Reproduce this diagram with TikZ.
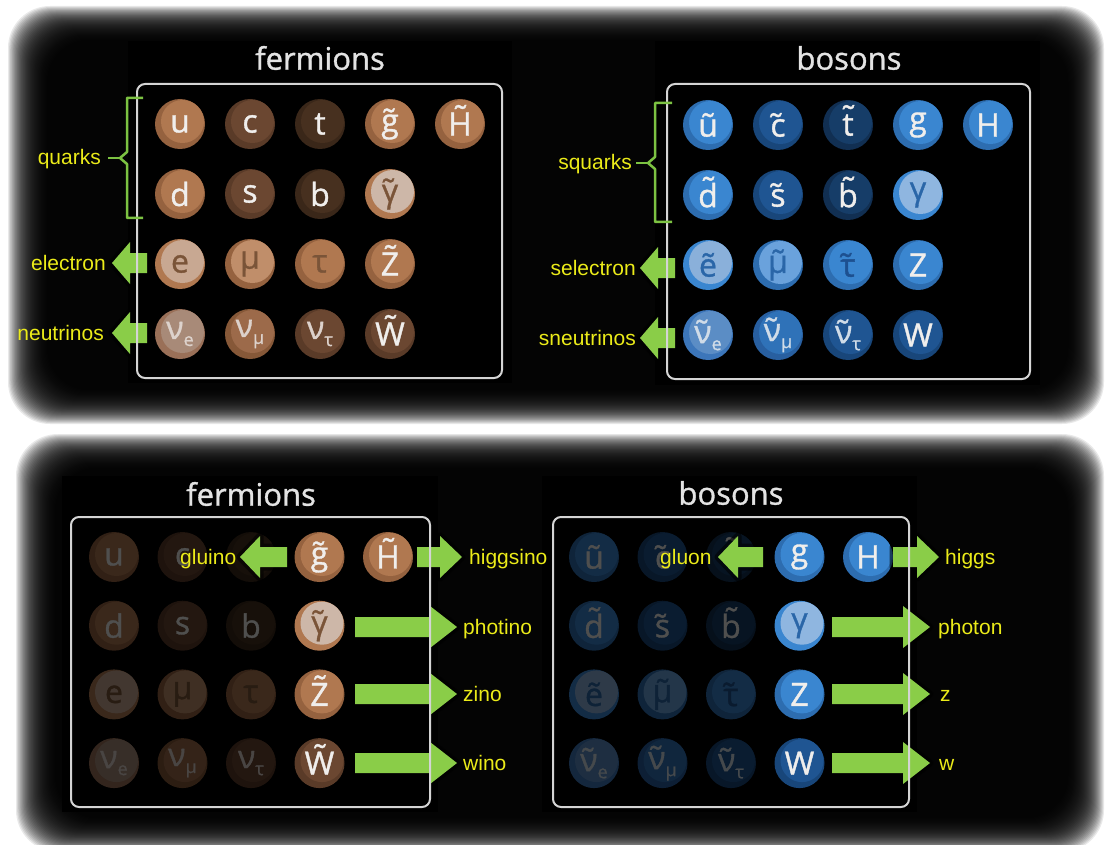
\documentclass[tikz,border=0pt]{standalone}
\usepackage{fontspec}
\setmainfont{Liberation Sans}
\newfontfamily\osans[FakeBold=1.1]{Open Sans}
\definecolor{bM}{HTML}{B07850}
\definecolor{bMc}{HTML}{95623F}
\definecolor{bD}{HTML}{6B4731}
\definecolor{bDc}{HTML}{5A3B28}
\definecolor{bV}{HTML}{47301F}
\definecolor{bVc}{HTML}{3A2719}
\definecolor{bL}{HTML}{CDB7A8}
\definecolor{bE}{HTML}{C8A892}
\definecolor{bMu}{HTML}{C08E6A}
\definecolor{bN}{HTML}{A88A78}
\definecolor{bNc}{HTML}{9A7058}
\definecolor{bN2}{HTML}{9C6A4A}
\definecolor{bN2c}{HTML}{865838}
\definecolor{bTd}{HTML}{7A5438}
\definecolor{wt}{HTML}{F0EEEC}
\definecolor{wl}{HTML}{DDD2CC}
\definecolor{uM}{HTML}{3A86D0}
\definecolor{uMc}{HTML}{2D6DB0}
\definecolor{uD}{HTML}{1F5592}
\definecolor{uDc}{HTML}{18467A}
\definecolor{uV}{HTML}{163D68}
\definecolor{uVc}{HTML}{112F52}
\definecolor{uL}{HTML}{8FB6E0}
\definecolor{uE}{HTML}{8AB0DA}
\definecolor{uMu}{HTML}{6AA2DC}
\definecolor{uN}{HTML}{5B8DC5}
\definecolor{uNc}{HTML}{3C76BA}
\definecolor{uN2}{HTML}{2F72B8}
\definecolor{uN2c}{HTML}{285FA0}
\definecolor{uTx}{HTML}{2A66A8}
\definecolor{uTd}{HTML}{1D5090}
\definecolor{wb}{HTML}{D0DCE8}
\definecolor{lblyellow}{RGB}{235,235,25}
\definecolor{titlegray}{HTML}{E3E3E3}
\definecolor{boxgray}{HTML}{D4D4D4}
\definecolor{bracegreen}{HTML}{7CC242}
\definecolor{arrowgreen}{RGB}{138,205,72}
\newcommand\tld{^^^^0303}
% tilde lifted above a tall letter
\newcommand\htl[1]{\ooalign{#1\cr\hidewidth\raisebox{7pt}{^^^^02dc}\hidewidth\cr}}
\newcommand\psub[1]{\raisebox{-7pt}{\fontsize{18}{18}\selectfont #1}}
% name, x, y, base, crescent, text colour, label, strength
\newcommand\ptcl[8]{%
  \fill[#5!#8!black] (#2,#3) circle[radius=25pt];
  \fill[#4!#8!black] (#2+2.5,#3-2.5) circle[radius=21.5pt];
  \node[ptxt,text=#6!#8!black] (#1) at (#2,#3) {#7};}
% prefix, x0, y0, dx, dy, other strength, highlight strength
\newcommand\fermset[7]{%
  \ptcl{#1u}{#2}{#3}{bM}{bMc}{wt}{u}{#6}
  \ptcl{#1c}{#2+#4}{#3}{bD}{bDc}{wt}{c}{#6}
  \ptcl{#1t}{#2+2*#4}{#3}{bV}{bVc}{wt}{t}{#6}
  \ptcl{#1g}{#2+3*#4}{#3}{bM}{bMc}{wt}{g\tld}{#7}
  \ptcl{#1H}{#2+4*#4}{#3}{bM}{bMc}{wt}{\htl{H}}{#7}
  \ptcl{#1d}{#2}{#3+#5}{bM}{bMc}{wt}{d}{#6}
  \ptcl{#1s}{#2+#4}{#3+#5}{bD}{bDc}{wt}{s}{#6}
  \ptcl{#1b}{#2+2*#4}{#3+#5}{bV}{bVc}{wt}{b}{#6}
  \ptcl{#1y}{#2+3*#4}{#3+#5}{bL}{bM}{bTd}{γ\tld}{#7}
  \ptcl{#1e}{#2}{#3+2*#5}{bE}{bM}{bTd}{e}{#6}
  \ptcl{#1m}{#2+#4}{#3+2*#5}{bMu}{bMc}{bTd}{μ}{#6}
  \ptcl{#1ta}{#2+2*#4}{#3+2*#5}{bM}{bMc}{bTd}{τ}{#6}
  \ptcl{#1Z}{#2+3*#4}{#3+2*#5}{bM}{bMc}{wt}{\htl{Z}}{#7}
  \ptcl{#1ne}{#2}{#3+3*#5}{bN}{bNc}{wl}{ν\psub{e}}{#6}
  \ptcl{#1nm}{#2+#4}{#3+3*#5}{bN2}{bN2c}{wl}{ν\psub{μ}}{#6}
  \ptcl{#1nt}{#2+2*#4}{#3+3*#5}{bD}{bDc}{wl}{ν\psub{τ}}{#6}
  \ptcl{#1W}{#2+3*#4}{#3+3*#5}{bD}{bDc}{wt}{\htl{W}}{#7}}
\newcommand\bosset[7]{%
  \ptcl{#1u}{#2}{#3}{uM}{uMc}{wt}{u\tld}{#6}
  \ptcl{#1c}{#2+#4}{#3}{uD}{uDc}{wt}{c\tld}{#6}
  \ptcl{#1t}{#2+2*#4}{#3}{uV}{uVc}{wt}{\htl{t}}{#6}
  \ptcl{#1g}{#2+3*#4}{#3}{uM}{uMc}{wt}{g}{#7}
  \ptcl{#1H}{#2+4*#4}{#3}{uM}{uMc}{wt}{H}{#7}
  \ptcl{#1d}{#2}{#3+#5}{uM}{uMc}{wt}{\htl{d}}{#6}
  \ptcl{#1s}{#2+#4}{#3+#5}{uD}{uDc}{wt}{s\tld}{#6}
  \ptcl{#1b}{#2+2*#4}{#3+#5}{uV}{uVc}{wt}{\htl{b}}{#6}
  \ptcl{#1y}{#2+3*#4}{#3+#5}{uL}{uM}{uTx}{γ}{#7}
  \ptcl{#1e}{#2}{#3+2*#5}{uE}{uM}{uTx}{e\tld}{#6}
  \ptcl{#1m}{#2+#4}{#3+2*#5}{uMu}{uMc}{uTx}{μ\tld}{#6}
  \ptcl{#1ta}{#2+2*#4}{#3+2*#5}{uM}{uMc}{uTd}{τ\tld}{#6}
  \ptcl{#1Z}{#2+3*#4}{#3+2*#5}{uM}{uMc}{wt}{Z}{#7}
  \ptcl{#1ne}{#2}{#3+3*#5}{uN}{uNc}{wb}{ν\tld\psub{e}}{#6}
  \ptcl{#1nm}{#2+#4}{#3+3*#5}{uN2}{uN2c}{wb}{ν\tld\psub{μ}}{#6}
  \ptcl{#1nt}{#2+2*#4}{#3+3*#5}{uD}{uDc}{wb}{ν\tld\psub{τ}}{#6}
  \ptcl{#1W}{#2+3*#4}{#3+3*#5}{uD}{uDc}{wt}{W}{#7}}
% x1 y1 x2 y2 : soft dark frame
\newcommand\frameblur[4]{%
  \foreach \i in {0,...,36}{
    \fill[black,opacity=0.085,rounded corners=42pt]
      (#1+\i*1.1,#2+\i*0.95) rectangle (#3-\i*1.0,#4-\i*0.95);}}
% xtail, xtip, y, head length
\newcommand\barrow[4]{%
  \pgfmathsetmacro\hb{#1<#2 ? #2-#4 : #2+#4}
  \draw[glow] (#1,#3-10) -- (\hb,#3-10) -- (\hb,#3-21) -- (#2,#3) -- (\hb,#3+21) -- (\hb,#3+10) -- (#1,#3+10) -- cycle;
  \fill[arrowgreen] (#1,#3-10) -- (\hb,#3-10) -- (\hb,#3-21) -- (#2,#3) -- (\hb,#3+21) -- (\hb,#3+10) -- (#1,#3+10) -- cycle;}
\tikzset{
  ptxt/.style={font=\osans\fontsize{32}{32}\selectfont, inner sep=0pt},
  ttl/.style={font=\osans\fontsize{31}{31}\selectfont, text=titlegray, inner sep=0pt},
  lbl/.style={font=\fontsize{21}{21}\selectfont, text=lblyellow, inner sep=0pt},
  bbox/.style={draw=boxgray, line width=2pt, rounded corners=8pt},
  brace/.style={draw=bracegreen, line width=2.5pt, line join=round},
  glow/.style={draw=black, line width=7pt, opacity=0.55, line join=round, fill=black},
}
\begin{document}
\begin{tikzpicture}[x=1pt,y=-1pt]
\useasboundingbox (0,0) rectangle (1108,845);
\fill[white] (0,0) rectangle (1108,845);
% frames
\frameblur{8}{6}{1104}{424}
\frameblur{16}{434}{1104}{852}
% panels
\fill[black] (128,41) rectangle (512,383);
\fill[black] (655,41) rectangle (1040,385);
\fill[black] (62,476) rectangle (438,812);
\fill[black] (542,476) rectangle (917,812);
% particles
\fermset{tf}{180}{124}{70}{70}{100}{100}
\bosset{tb}{708}{125}{70}{70}{100}{100}
\fermset{bf}{114}{557}{68.5}{68.7}{33}{100}
\bosset{bb}{594}{557}{68.5}{68.7}{33}{100}
% arrows
\barrow{147}{112}{263}{18}
\barrow{147}{112}{333}{18}
\barrow{675}{640}{268}{18}
\barrow{675}{640}{338}{18}
\barrow{287}{240}{557}{20}
\barrow{417}{462}{557}{22}
\barrow{355}{457}{627}{27}
\barrow{355}{457}{694}{27}
\barrow{355}{457}{763}{27}
\barrow{763}{718}{557}{20}
\barrow{893}{939}{557}{22}
\barrow{832}{930}{627}{27}
\barrow{832}{930}{694}{27}
\barrow{832}{930}{763}{27}
% boxes
\draw[bbox] (137,84) rectangle (502,378);
\draw[bbox] (667,84) rectangle (1030,379);
\draw[bbox] (71,517) rectangle (430,807);
\draw[bbox] (553,517) rectangle (909,807);
% braces
\draw[brace] (143,98) -- (127,98) -- (127,152) -- (120,158) -- (127,164) -- (127,218) -- (143,218);
\draw[brace] (108,158) -- (120,158);
\draw[brace] (672,103) -- (655,103) -- (655,157) -- (648,163) -- (655,169) -- (655,222) -- (672,222);
\draw[brace] (636,163) -- (648,163);
% labels
\node[lbl, anchor=base east] (quarks) at (101,165) {quarks};
\node[lbl, anchor=base east] (electron) at (106,270) {electron};
\node[lbl, anchor=base east] (neutrinos) at (104,340) {neutrinos};
\node[lbl, anchor=base east] (squarks) at (632,170) {squarks};
\node[lbl, anchor=base east] (selectron) at (636,275) {selectron};
\node[lbl, anchor=base east] (sneutrinos) at (636,345) {sneutrinos};
\node[lbl, anchor=base west] (gluino) at (180,564) {gluino};
\node[lbl, anchor=base west] (higgsino) at (469,564) {higgsino};
\node[lbl, anchor=base west] (photino) at (463,634) {photino};
\node[lbl, anchor=base west] (zino) at (463,701) {zino};
\node[lbl, anchor=base west] (wino) at (463,770) {wino};
\node[lbl, anchor=base west] (gluon) at (660,564) {gluon};
\node[lbl, anchor=base west] (higgs) at (945,564) {higgs};
\node[lbl, anchor=base west] (photon) at (938,634) {photon};
\node[lbl, anchor=base west] (zlbl) at (940,701) {z};
\node[lbl, anchor=base west] (wlbl) at (939,770) {w};
% titles
\node[ttl] (tft) at (320,58) {fermions};
\node[ttl] (tbt) at (849,58) {bosons};
\node[ttl] (bft) at (251,494) {fermions};
\node[ttl] (bbt) at (731,493) {bosons};
\end{tikzpicture}
\end{document}
